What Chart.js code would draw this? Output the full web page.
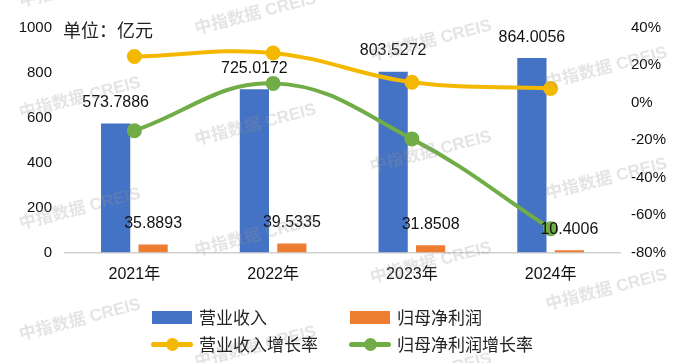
<!DOCTYPE html>
<html>
<head>
<meta charset="utf-8">
<script src="https://cdn.jsdelivr.net/npm/chart.js@4.4.1/dist/chart.umd.min.js"></script>
<style>
  html, body { margin: 0; padding: 0; background: #fff; }
  #wrap { position: relative; width: 686px; height: 363px; overflow: hidden; }
  #unit { position: absolute; left: 63px; top: 17px; font: 18px "Noto Sans CJK SC", sans-serif; color: #222; line-height: 24px; }
  .leg { position: absolute; font: 17px "Noto Sans CJK SC", sans-serif; color: #222; line-height: 22px; display: flex; align-items: center; }
  .box { width: 40px; height: 13px; margin-right: 7px; }
  .ln { position: relative; width: 42px; height: 13px; margin-right: 6px; }
  .ln i { position: absolute; left: 0; right: 0; top: 4px; height: 5px; border-radius: 3px; }
  .ln b { position: absolute; left: 15px; top: 0; width: 13px; height: 13px; border-radius: 50%; }
</style>
</head>
<body>
<div id="wrap">
  <canvas id="myChart" width="686" height="363"></canvas>
  <div id="unit">单位：亿元</div>
  <div class="leg" style="left:152px; top:306px;"><span class="box" style="background:#4472C4"></span>营业收入</div>
  <div class="leg" style="left:350px; top:306px;"><span class="box" style="background:#ED7D31"></span>归母净利润</div>
  <div class="leg" style="left:151px; top:333px;"><span class="ln"><i style="background:#F5B800"></i><b style="background:#F5B800"></b></span>营业收入增长率</div>
  <div class="leg" style="left:349px; top:333px;"><span class="ln"><i style="background:#70AD47"></i><b style="background:#70AD47"></b></span>归母净利润增长率</div>
</div>
<script>
// 数据
const categories = ['2021年', '2022年', '2023年', '2024年'];
const revenue = [573.7886, 725.0172, 803.5272, 864.0056];
const netProfit = [35.8893, 39.5335, 31.8508, 10.4006];
const revenueGrowth = [24.5, 26.4, 10.8, 7.5];
const profitGrowth = [-15.0, 10.2, -19.4, -67.3];
const leftTicks = [0, 200, 400, 600, 800, 1000];
const rightTicks = [-80, -60, -40, -20, 0, 20, 40];

const FONT = '"Liberation Sans", "Noto Sans CJK SC", sans-serif';

// 柱子上的数值
const barLabels = {
  id: 'barLabels',
  afterDatasetsDraw(chart) {
    const ctx = chart.ctx;
    ctx.save();
    ctx.font = '16px ' + FONT;
    ctx.fillStyle = '#111';
    ctx.textAlign = 'center';
    ctx.textBaseline = 'middle';
    [0, 1].forEach((di) => {
      const meta = chart.getDatasetMeta(di);
      meta.data.forEach((bar, i) => {
        ctx.fillText(chart.data.datasets[di].data[i].toFixed(4), bar.x, bar.y - 21);
      });
    });
    ctx.restore();
  }
};

// 水印
const watermark = {
  id: 'watermark',
  afterDraw(chart) {
    const ctx = chart.ctx;
    ctx.save();
    ctx.font = 'bold 17px ' + FONT;
    ctx.fillStyle = 'rgba(150,150,150,0.26)';
    ctx.textAlign = 'center';
    ctx.textBaseline = 'middle';
    for (let i = 0; i < 4; i++) {
      for (let j = 0; j < 4; j++) {
        ctx.save();
        ctx.translate(80 + 175.5 * i, -13 + 27 * i + 111 * j);
        ctx.rotate(-14.5 * Math.PI / 180);
        ctx.fillText('中指数据 CREIS', 0, 0);
        ctx.restore();
      }
    }
    ctx.restore();
  }
};

const ctx = document.getElementById('myChart').getContext('2d');
new Chart(ctx, {
  type: 'bar',
  data: {
    labels: categories,
    datasets: [
      {
        label: '营业收入',
        data: revenue,
        backgroundColor: '#4472C4',
        yAxisID: 'y',
        order: 2,
        barPercentage: 0.78,
        categoryPercentage: 0.54
      },
      {
        label: '归母净利润',
        data: netProfit,
        backgroundColor: '#ED7D31',
        yAxisID: 'y',
        order: 2,
        barPercentage: 0.78,
        categoryPercentage: 0.54
      },
      {
        type: 'line',
        label: '营业收入增长率',
        data: revenueGrowth,
        borderColor: '#F5B800',
        backgroundColor: '#F5B800',
        borderWidth: 4,
        pointRadius: 5.5,
        pointHoverRadius: 5.5,
        tension: 0.4,
        yAxisID: 'y1',
        order: 1
      },
      {
        type: 'line',
        label: '归母净利润增长率',
        data: profitGrowth,
        borderColor: '#70AD47',
        backgroundColor: '#70AD47',
        borderWidth: 4,
        pointRadius: 5.5,
        pointHoverRadius: 5.5,
        tension: 0.4,
        yAxisID: 'y1',
        order: 0
      }
    ]
  },
  options: {
    responsive: false,
    animation: false,
    layout: { padding: { top: 27.5, left: 0, right: 0, bottom: 0 } },
    plugins: {
      legend: { display: false },
      tooltip: { enabled: false }
    },
    scales: {
      x: {
        grid: { display: false, drawTicks: false },
        border: { color: '#d0d0d0', width: 1.5 },
        ticks: { color: '#111', font: { family: FONT, size: 16 }, padding: 12 },
        afterFit: (s) => { s.height = 110.5; }
      },
      y: {
        position: 'left',
        min: 0,
        max: 1000,
        afterBuildTicks: (s) => { s.ticks = leftTicks.map((v) => ({ value: v })); },
        grid: { display: false, drawTicks: false },
        border: { display: false },
        ticks: {
          color: '#111',
          font: { family: FONT, size: 15 },
          padding: 13,
          callback: (v) => String(v)
        },
        afterFit: (s) => { s.width = 65; }
      },
      y1: {
        position: 'right',
        min: -80,
        max: 40,
        afterBuildTicks: (s) => { s.ticks = rightTicks.map((v) => ({ value: v })); },
        grid: { display: false, drawTicks: false },
        border: { display: false },
        ticks: {
          color: '#111',
          font: { family: FONT, size: 15 },
          padding: 11,
          callback: (v) => v + '%'
        },
        afterFit: (s) => { s.width = 66; }
      }
    }
  },
  plugins: [barLabels, watermark]
});
</script>
</body>
</html>
